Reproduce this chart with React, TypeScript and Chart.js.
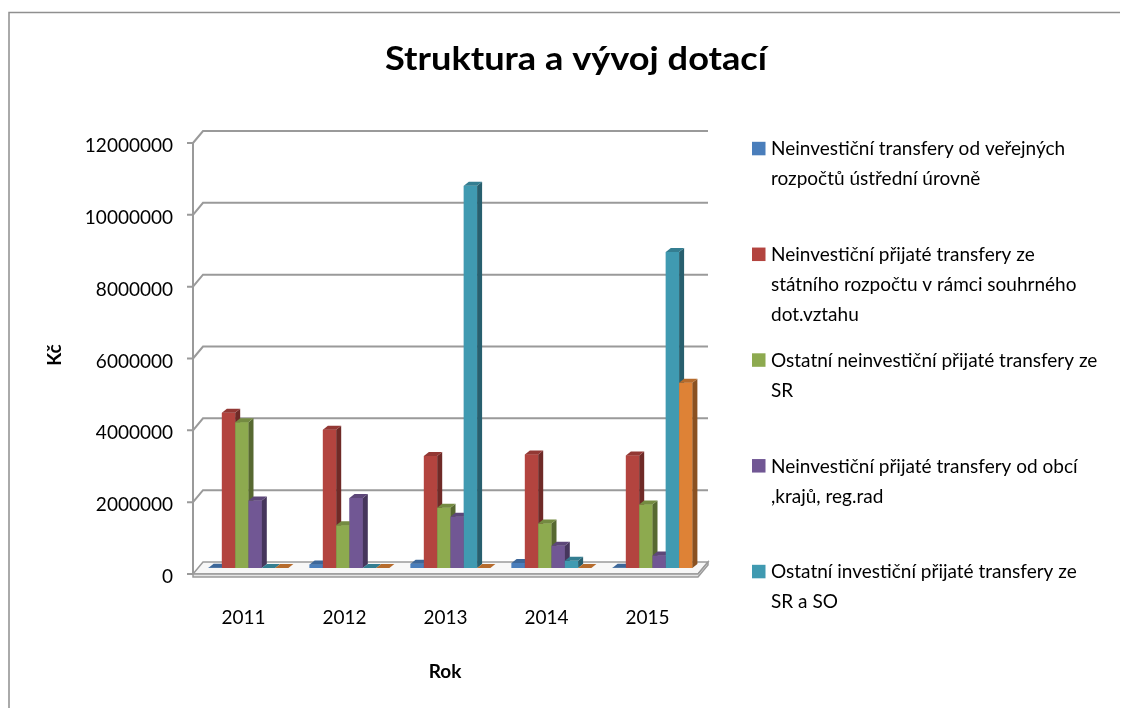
import React, { useEffect, useRef } from "react";
import { Chart, registerables } from "chart.js";

Chart.register(...registerables);

const TITLE = "Struktura a vývoj dotací";
const X_TITLE = "Rok";
const Y_TITLE = "Kč";

const YEARS = ["2011", "2012", "2013", "2014", "2015"];
const Y_TICKS = [0, 2000000, 4000000, 6000000, 8000000, 10000000, 12000000];

const NAME_1 = ["Neinvestiční transfery od veřejných", "rozpočtů ústřední úrovně"];
const NAME_2 = ["Neinvestiční přijaté transfery ze", "státního rozpočtu v rámci souhrného", "dot.vztahu"];
const NAME_3 = ["Ostatní neinvestiční přijaté transfery ze", "SR"];
const NAME_4 = ["Neinvestiční přijaté transfery od obcí", ",krajů, reg.rad"];
const NAME_5 = ["Ostatní investiční přijaté transfery ze", "SR a SO"];
const NAME_6 = ["Investiční přijaté transfery"];

const VALUES_1 = [10000, 100000, 120000, 140000, 10000];
const VALUES_2 = [4320000, 3850000, 3120000, 3160000, 3130000];
const VALUES_3 = [4060000, 1190000, 1680000, 1240000, 1770000];
const VALUES_4 = [1880000, 1950000, 1430000, 620000, 350000];
const VALUES_5 = [0, 0, 10640000, 200000, 8800000];
const VALUES_6 = [0, 0, 0, 0, 5160000];

const COLORS = ["#4A7EBB", "#B3443F", "#8DAA4F", "#715794", "#409AB1", "#DE8236"];
const LEGEND_COLORS = ["#4A7EBB", "#B3443F", "#8DAA4F", "#715794", "#409AB1"];

const SERIES = [
  { name: NAME_1, values: VALUES_1 },
  { name: NAME_2, values: VALUES_2 },
  { name: NAME_3, values: VALUES_3 },
  { name: NAME_4, values: VALUES_4 },
  { name: NAME_5, values: VALUES_5 },
  { name: NAME_6, values: VALUES_6 },
];

const FONT = "Lato, 'Open Sans', sans-serif";
const FRONT = { dx: -5, dy: 6 };
const BACK = { dx: 5, dy: -6 };
const BAR_DEPTH = { dx: 5, dy: -4 };

function shade(hex: string, f: number) {
  const n = parseInt(hex.slice(1), 16);
  const r = Math.round(((n >> 16) & 255) * f);
  const g = Math.round(((n >> 8) & 255) * f);
  const b = Math.round((n & 255) * f);
  return `rgb(${Math.min(255, r)},${Math.min(255, g)},${Math.min(255, b)})`;
}

const decorPlugin = {
  id: "decor3d",
  beforeDraw(chart: any) {
    const { ctx, chartArea: a, width, height } = chart;
    const y = chart.scales.y;
    ctx.save();
    ctx.fillStyle = "#ffffff";
    ctx.fillRect(0, 0, width, height);
    // outer frame (left and top visible)
    ctx.strokeStyle = "#8f8f8f";
    ctx.lineWidth = 1.5;
    ctx.beginPath();
    ctx.moveTo(1, height);
    ctx.lineTo(1, 4.5);
    ctx.lineTo(width, 4.5);
    ctx.stroke();

    // grid lines: left wall diagonal + back wall
    ctx.strokeStyle = "#9a9a9a";
    ctx.lineWidth = 2;
    Y_TICKS.forEach((v) => {
      const py = y.getPixelForValue(v);
      ctx.beginPath();
      if (v !== 0) {
        ctx.moveTo(a.left + FRONT.dx, py + FRONT.dy);
        ctx.lineTo(a.left + BACK.dx, py + BACK.dy);
        ctx.lineTo(a.right + BACK.dx, py + BACK.dy);
      }
      ctx.moveTo(a.left + FRONT.dx - 6, py + FRONT.dy);
      ctx.lineTo(a.left + FRONT.dx, py + FRONT.dy);
      ctx.stroke();
    });
    // front-left vertical edge
    ctx.beginPath();
    ctx.moveTo(a.left + FRONT.dx, a.top + FRONT.dy);
    ctx.lineTo(a.left + FRONT.dx, a.bottom + FRONT.dy);
    ctx.stroke();

    // floor
    const b = a.bottom;
    const th = 3;
    const FL = [a.left + FRONT.dx, b + FRONT.dy];
    const FR = [a.right + FRONT.dx, b + FRONT.dy];
    const BR = [a.right + BACK.dx, b + BACK.dy];
    const BL = [a.left + BACK.dx, b + BACK.dy];
    ctx.lineWidth = 1.5;
    ctx.strokeStyle = "#9a9a9a";
    ctx.fillStyle = "#f7f7f7";
    ctx.beginPath();
    ctx.moveTo(FL[0], FL[1]);
    ctx.lineTo(FR[0], FR[1]);
    ctx.lineTo(BR[0], BR[1]);
    ctx.lineTo(BL[0], BL[1]);
    ctx.closePath();
    ctx.fill();
    ctx.stroke();
    ctx.fillStyle = "#e6e6e6";
    ctx.beginPath();
    ctx.moveTo(FL[0], FL[1]);
    ctx.lineTo(FR[0], FR[1]);
    ctx.lineTo(BR[0], BR[1]);
    ctx.lineTo(BR[0], BR[1] + th);
    ctx.lineTo(FR[0], FR[1] + th);
    ctx.lineTo(FL[0], FL[1] + th);
    ctx.closePath();
    ctx.fill();
    ctx.stroke();
    ctx.restore();
  },
  afterDatasetsDraw(chart: any) {
    const { ctx } = chart;
    ctx.save();
    chart.data.datasets.forEach((ds: any, i: number) => {
      const meta = chart.getDatasetMeta(i);
      const col = COLORS[i];
      meta.data.forEach((el: any) => {
        const left = el.x - el.width / 2;
        const right = el.x + el.width / 2;
        const top = Math.min(el.y, el.base);
        const base = el.base;
        ctx.fillStyle = col;
        ctx.fillRect(left, top, right - left, base - top);
        ctx.fillStyle = shade(col, 0.62);
        ctx.beginPath();
        ctx.moveTo(right, top);
        ctx.lineTo(right + BAR_DEPTH.dx, top + BAR_DEPTH.dy);
        ctx.lineTo(right + BAR_DEPTH.dx, base + BAR_DEPTH.dy);
        ctx.lineTo(right, base);
        ctx.closePath();
        ctx.fill();
        ctx.fillStyle = shade(col, 0.82);
        ctx.beginPath();
        ctx.moveTo(left, top);
        ctx.lineTo(left + BAR_DEPTH.dx, top + BAR_DEPTH.dy);
        ctx.lineTo(right + BAR_DEPTH.dx, top + BAR_DEPTH.dy);
        ctx.lineTo(right, top);
        ctx.closePath();
        ctx.fill();
      });
    });
    ctx.restore();
  },
  afterDraw(chart: any) {
    const { ctx } = chart;
    ctx.save();
    ctx.fillStyle = "#000";
    // title, stretched to the reference width
    ctx.font = `bold 32px ${FONT}`;
    ctx.textAlign = "center";
    ctx.textBaseline = "alphabetic";
    const tw = ctx.measureText(TITLE).width;
    ctx.save();
    ctx.translate(568, 62);
    ctx.scale(382 / tw, 1);
    ctx.fillText(TITLE, 0, 0);
    ctx.restore();
    // axis titles
    ctx.font = `bold 19px ${FONT}`;
    ctx.textBaseline = "middle";
    ctx.fillText(X_TITLE, 437, 664);
    ctx.save();
    ctx.translate(47, 347);
    ctx.rotate(-Math.PI / 2);
    ctx.fillText(Y_TITLE, 0, 0);
    ctx.restore();
    // legend
    ctx.font = `19px ${FONT}`;
    ctx.textAlign = "left";
    const sx = 310 / ctx.measureText(NAME_1[0]).width;
    LEGEND_COLORS.forEach((c, i) => {
      const y0 = 141.3 + i * 105.75;
      ctx.fillStyle = c;
      ctx.fillRect(744, y0 - 7.5, 13.5, 13.5);
      ctx.fillStyle = "#000";
      SERIES[i].name.forEach((line, j) => {
        ctx.save();
        ctx.translate(763, y0 + j * 30);
        ctx.scale(Math.min(1, sx), 1);
        ctx.fillText(line, 0, 0);
        ctx.restore();
      });
    });
    ctx.restore();
  },
};

export default function App() {
  const ref = useRef<HTMLCanvasElement | null>(null);
  useEffect(() => {
    if (!ref.current) return;
    const chart = new Chart(ref.current, {
      type: "bar",
      data: {
        labels: YEARS,
        datasets: SERIES.map((s, i) => ({
          label: s.name.join(" "),
          data: s.values,
          backgroundColor: COLORS[i],
          borderWidth: 0,
          barPercentage: 1,
          categoryPercentage: 0.79,
        })),
      },
      options: {
        responsive: false,
        animation: false,
        layout: { padding: { left: 0, top: 129, right: 417, bottom: 40 } },
        plugins: {
          legend: { display: false },
          title: { display: false },
          tooltip: { enabled: false },
        },
        scales: {
          x: {
            grid: { display: false },
            border: { display: false },
            ticks: {
              color: "#000",
              font: { family: FONT, size: 19 },
              padding: 30,
              labelOffset: -5,
              maxRotation: 0,
            },
            afterFit: (s: any) => {
              s.height = 100;
            },
          },
          y: {
            min: 0,
            max: 12000000,
            grid: { display: false },
            border: { display: false },
            afterBuildTicks: (s: any) => {
              s.ticks = Y_TICKS.map((v) => ({ value: v }));
            },
            ticks: {
              color: "#000",
              font: { family: FONT, size: 19 },
              padding: 17,
              labelOffset: 9,
              callback: (v: any) => String(v),
            },
            afterFit: (s: any) => {
              s.width = 190;
            },
          },
        },
      },
      plugins: [decorPlugin],
    } as any);
    return () => chart.destroy();
  }, []);
  return (
    <canvas
      ref={ref}
      width={1112}
      height={700}
      style={{ display: "block", width: 1112, height: 700 }}
    />
  );
}
